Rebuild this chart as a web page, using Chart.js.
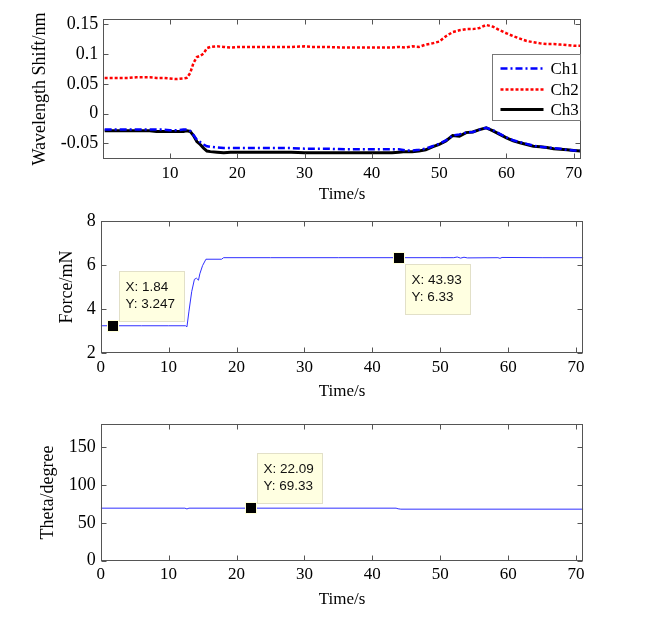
<!DOCTYPE html>
<html><head><meta charset="utf-8">
<script src="https://cdn.jsdelivr.net/npm/chart.js@4.4.1/dist/chart.umd.min.js"></script>
<style>
html,body{margin:0;padding:0;background:#fff;}
#wrap{position:relative;width:657px;height:623px;overflow:hidden;background:#fff}
canvas{position:absolute;left:0}
</style></head><body>
<div id="wrap">
<canvas id="c1" width="657" height="205" style="top:0px"></canvas>
<canvas id="c2" width="657" height="200" style="top:205px"></canvas>
<canvas id="c3" width="657" height="218" style="top:405px"></canvas>
</div>
<script>
// ---------- data ----------
const timeTop = [0.3,2,4,5,6,7,8,9,10,11,12,12.5,13,13.5,14,14.5,15,15.5,16,17,18,19,20,22,25,28,30,31,33,36,40,43,44,45,46,47,48,49,50,51,52,53,54,55,56,57,58,59,60,61,62,63,64,65,66,67,68,69,70,71];
const ch1 = [-0.027,-0.027,-0.027,-0.027,-0.027,-0.027,-0.027,-0.027,-0.028,-0.028,
 -0.027,-0.027,-0.029,-0.036,-0.044,-0.048,-0.052,-0.055,-0.056,-0.057,
 -0.058,-0.058,-0.058,-0.058,-0.058,-0.058,-0.059,-0.059,-0.059,-0.060,
 -0.060,-0.060,-0.060,-0.062,-0.062,-0.061,-0.059,-0.055,-0.051,-0.045,
 -0.037,-0.035,-0.032,-0.031,-0.027,-0.024,-0.028,-0.034,-0.040,-0.045,
 -0.048,-0.051,-0.054,-0.056,-0.057,-0.058,-0.059,-0.061,-0.062,-0.062];
const ch2 = [0.060,0.060,0.060,0.061,0.061,0.061,0.060,0.060,0.059,0.058,
 0.059,0.060,0.068,0.085,0.095,0.097,0.101,0.110,0.112,0.113,
 0.112,0.111,0.112,0.112,0.112,0.112,0.113,0.112,0.112,0.111,
 0.111,0.111,0.112,0.111,0.113,0.112,0.116,0.118,0.121,0.130,
 0.137,0.140,0.142,0.142,0.144,0.149,0.146,0.140,0.135,0.130,
 0.126,0.122,0.120,0.118,0.117,0.117,0.116,0.115,0.114,0.114];
const ch3 = [-0.029,-0.029,-0.029,-0.029,-0.029,-0.029,-0.030,-0.030,-0.030,-0.030,
 -0.030,-0.029,-0.030,-0.037,-0.047,-0.052,-0.058,-0.063,-0.064,-0.065,
 -0.066,-0.065,-0.065,-0.065,-0.065,-0.065,-0.066,-0.066,-0.066,-0.066,
 -0.066,-0.066,-0.065,-0.064,-0.064,-0.063,-0.061,-0.056,-0.052,-0.046,
 -0.037,-0.038,-0.032,-0.031,-0.027,-0.024,-0.029,-0.035,-0.041,-0.046,
 -0.049,-0.052,-0.055,-0.056,-0.057,-0.059,-0.060,-0.061,-0.062,-0.063];
const seriesNames = ["Ch1","Ch2","Ch3"];
const topXTicks = [10,20,30,40,50,60,70];
const topYTicks = [-0.05,0,0.05,0.1,0.15];
const topYLabels = ["-0.05","0","0.05","0.1","0.15"];

const timeForce = [0,1.84,6,10,12.5,12.7,13.0,13.4,13.8,14.1,14.4,14.6,15.0,15.5,17.8,18.1,25,35,43.93,50,52,52.5,53,53.5,54,58.5,58.8,59.1,65,71.07];
const force = [3.247,3.247,3.247,3.247,3.247,3.20,3.91,4.79,5.35,5.40,5.31,5.60,5.97,6.26,6.26,6.33,6.33,6.33,6.33,6.33,6.33,6.36,6.31,6.35,6.32,6.33,6.30,6.34,6.33,6.33];
const forceYTicks = [2,4,6,8];
const forceTipX = [1.84, 43.93];
const forceTipY = [3.247, 6.33];

const timeTheta = [0,12.4,12.7,13.0,22.09,43.5,43.8,44.2,71.07];
const theta = [69.33,69.33,68.3,69.33,69.33,69.33,68.5,68.0,68.0];
const thetaYTicks = [0,50,100,150];
const thetaTipX = [22.09];
const thetaTipY = [69.33];

const xTicks = [0,10,20,30,40,50,60,70];

// ---------- style ----------
const AXIS = '#555555';
const SERIF = "'Liberation Serif','Times New Roman',serif";
const SANS = "'Liberation Sans',Arial,sans-serif";
const FS = 17;
const FSY = 18;

function pts(xs, ys){ return xs.map((x,i)=>({x:x,y:ys[i]})); }

const framePlugin = {
  id: 'frame',
  afterDraw(chart, args, opts) {
    const ctx = chart.ctx, a = chart.chartArea, sx = chart.scales.x, sy = chart.scales.y;
    ctx.save();
    ctx.strokeStyle = AXIS; ctx.lineWidth = 1;
    const L = Math.round(a.left)+0.5, R = Math.round(a.right)-0.5, T = Math.round(a.top)+0.5, B = Math.round(a.bottom)-0.5;
    ctx.beginPath();
    sx.ticks.forEach(t => {
      const p = Math.round(sx.getPixelForValue(t.value))+0.5;
      ctx.moveTo(p, T); ctx.lineTo(p, T+5);
      ctx.moveTo(p, B); ctx.lineTo(p, B-5);
    });
    sy.ticks.forEach(t => {
      const p = Math.round(sy.getPixelForValue(t.value))+0.5;
      ctx.moveTo(L, p); ctx.lineTo(L+5, p);
      ctx.moveTo(R, p); ctx.lineTo(R-5, p);
    });
    ctx.stroke();
    ctx.strokeRect(L, T, R-L, B-T);
    ctx.restore();

    if (opts.legend) {
      const ds = chart.data.datasets;
      const x0 = Math.round(a.right - 89)+0.5, y0 = Math.round(a.top + 35)+0.5;
      const w = 88, h = 66;
      ctx.save();
      ctx.fillStyle = '#ffffff';
      ctx.fillRect(x0, y0, w, h);
      ctx.strokeStyle = '#777777'; ctx.lineWidth = 1;
      ctx.strokeRect(x0, y0, w, h);
      const rows = [14, 35, 55];
      ds.forEach((d,i) => {
        const yy = y0 + rows[i];
        ctx.strokeStyle = d.borderColor; ctx.lineWidth = d.borderWidth;
        ctx.setLineDash(d.borderDash || []);
        ctx.beginPath(); ctx.moveTo(x0+8, yy); ctx.lineTo(x0+51, yy); ctx.stroke();
        ctx.setLineDash([]);
        ctx.fillStyle = '#000'; ctx.font = FS+'px '+SERIF;
        ctx.textBaseline = 'middle'; ctx.textAlign = 'left';
        ctx.fillText(d.label, x0+58, yy+1);
      });
      ctx.restore();
    }

    (opts.tips || []).forEach(tp => {
      const cx = sx.getPixelForValue(tp.x), cy = sy.getPixelForValue(tp.y);
      ctx.save();
      ctx.font = '13.5px '+SANS;
      const l1 = 'X: ' + tp.xs, l2 = 'Y: ' + tp.ys;
      const tw = Math.max(ctx.measureText(l1).width, ctx.measureText(l2).width);
      const bw = Math.round(tw + 15), bh = 50;
      const bx = Math.round(cx + 6) + 0.5;
      const by = tp.place === 'below' ? Math.round(cy + 6) + 0.5 : Math.round(cy - 5 - bh) + 0.5;
      ctx.fillStyle = '#ffffe1';
      ctx.fillRect(bx, by, bw, bh);
      ctx.strokeStyle = '#e2e0c8'; ctx.lineWidth = 1;
      ctx.strokeRect(bx, by, bw, bh);
      ctx.fillStyle = '#111'; ctx.textBaseline = 'middle'; ctx.textAlign = 'left';
      ctx.fillText(l1, bx + 6, by + 16);
      ctx.fillText(l2, bx + 6, by + 33);
      // marker
      ctx.fillStyle = '#ffffd8';
      ctx.fillRect(Math.round(cx - 6), Math.round(cy - 6), 12, 12);
      ctx.fillStyle = '#000';
      ctx.fillRect(Math.round(cx - 5), Math.round(cy - 5), 10, 10);
      ctx.restore();
    });
  }
};

function fmtFromList(vals, labels) {
  return function(v) {
    for (let i = 0; i < vals.length; i++) if (Math.abs(vals[i] - v) < 1e-9) return labels[i];
    return '';
  };
}

function makeChart(id, cfg) {
  return new Chart(document.getElementById(id), {
    type: 'line',
    data: { datasets: cfg.datasets },
    plugins: [framePlugin],
    options: {
      responsive: false, animation: false, devicePixelRatio: 1,
      layout: { padding: { top: cfg.top, right: cfg.right, left: 0, bottom: 0 } },
      elements: { point: { radius: 0 }, line: { tension: 0 } },
      plugins: { legend: { display: false }, tooltip: { enabled: false },
        frame: { legend: !!cfg.legend, tips: cfg.tips || [] } },
      scales: {
        x: {
          type: 'linear', position: 'bottom', min: cfg.xmin, max: cfg.xmax,
          grid: { display: false, drawTicks: false, tickLength: 0 },
          border: { display: false },
          afterBuildTicks: s => { s.ticks = cfg.xTicks.map(v => ({ value: v })); },
          afterFit: s => { s.height = cfg.xh; },
          ticks: { autoSkip: false, maxRotation: 0, padding: 4, color: '#000',
            font: { family: SERIF, size: FS }, callback: v => String(v) },
          title: { display: true, text: 'Time/s', color: '#000',
            font: { family: SERIF, size: FS }, padding: { top: 0, bottom: cfg.xtp } }
        },
        y: {
          type: 'linear', position: 'left', min: cfg.ymin, max: cfg.ymax,
          grid: { display: false, drawTicks: false, tickLength: 0 },
          border: { display: false },
          afterBuildTicks: s => { s.ticks = cfg.yTicks.map(v => ({ value: v })); },
          afterFit: s => { s.width = cfg.yw; },
          ticks: { autoSkip: false, padding: 5, color: '#000',
            font: { family: SERIF, size: FSY }, callback: cfg.yFmt || (v => String(v)) },
          title: { display: true, text: cfg.ytitle, color: '#000',
            font: { family: SERIF, size: FSY }, padding: { top: cfg.ytp, bottom: 0 } }
        }
      }
    }
  });
}

makeChart('c1', {
  datasets: [
    { label: seriesNames[0], data: pts(timeTop, ch1), borderColor: '#0000ff', borderWidth: 2.5, borderDash: [7,3,2,3], fill: false },
    { label: seriesNames[1], data: pts(timeTop, ch2), borderColor: '#ff0000', borderWidth: 2.5, borderDash: [3,2], fill: false },
    { label: seriesNames[2], data: pts(timeTop, ch3), borderColor: '#000000', borderWidth: 3, fill: false }
  ],
  top: 19, right: 76, xh: 46, yw: 103.3, xtp: 0, ytp: 29.2,
  xmin: 0.1, xmax: 71.07, ymin: -0.0764, ymax: 0.159,
  xTicks: topXTicks, yTicks: topYTicks, yFmt: fmtFromList(topYTicks, topYLabels),
  ytitle: 'Wavelength Shift/nm', legend: true
});

makeChart('c2', {
  datasets: [
    { label: 'Force', data: pts(timeForce, force), borderColor: '#3030ff', borderWidth: 1, fill: false }
  ],
  top: 12.3, right: 73.7, xh: 51.7, yw: 100.7, xtp: 3.1, ytp: 56.2,
  xmin: 0, xmax: 71.07, ymin: 2, ymax: 8,
  xTicks: xTicks, yTicks: forceYTicks, ytitle: 'Force/mN',
  tips: forceTipX.map((x, i) => ({ x: x, y: forceTipY[i], xs: String(x), ys: String(forceTipY[i]), place: i === 0 ? 'above' : 'below' }))
});

makeChart('c3', {
  datasets: [
    { label: 'Theta', data: pts(timeTheta, theta), borderColor: '#3030ff', borderWidth: 1, fill: false }
  ],
  top: 19.3, right: 73.7, xh: 62.3, yw: 100.7, xtp: 12.8, ytp: 37.5,
  xmin: 0, xmax: 71.07, ymin: 0, ymax: 180,
  xTicks: xTicks, yTicks: thetaYTicks, ytitle: 'Theta/degree',
  tips: thetaTipX.map((x, i) => ({ x: x, y: thetaTipY[i], xs: String(x), ys: String(thetaTipY[i]), place: 'above' }))
});
</script>
</body></html>
